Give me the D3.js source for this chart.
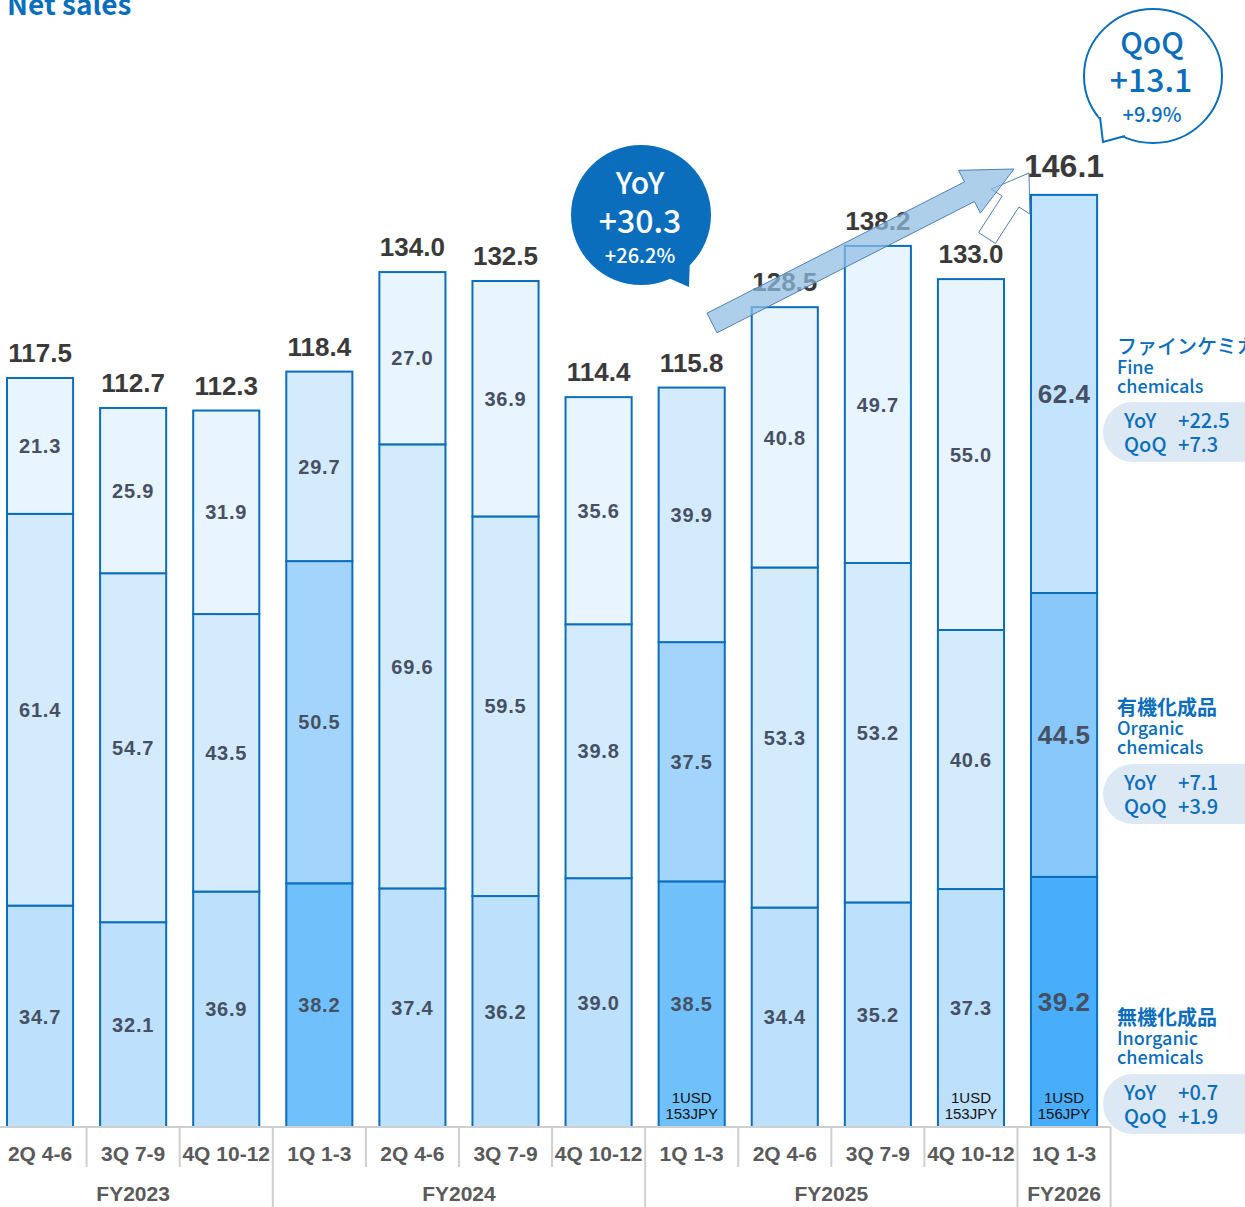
<!DOCTYPE html>
<head>
<meta charset="utf-8">
<style>
body { margin: 0; background: #fff; }
svg { display: block; }
.num { font-family: "Liberation Sans", Arial, sans-serif; font-weight: bold; }
.jp { font-family: "Noto Sans CJK JP", "Noto Sans", sans-serif; }
</style>
<title>Net sales</title>
</head>
<body>
<script src="https://cdn.jsdelivr.net/npm/d3@7"></script>
<script>

var width = 1245, height = 1207;

// quarters and fiscal years
var quarters = ["2Q 4-6","3Q 7-9","4Q 10-12","1Q 1-3","2Q 4-6","3Q 7-9","4Q 10-12","1Q 1-3","2Q 4-6","3Q 7-9","4Q 10-12","1Q 1-3"];
var years = ["FY2023","FY2023","FY2023","FY2024","FY2024","FY2024","FY2024","FY2025","FY2025","FY2025","FY2025","FY2026"];

// segment values (billion JPY)
var inorganic = [34.7,32.1,36.9,38.2,37.4,36.2,39.0,38.5,34.4,35.2,37.3,39.2];
var organic   = [61.4,54.7,43.5,50.5,69.6,59.5,39.8,37.5,53.3,53.2,40.6,44.5];
var fine      = [21.3,25.9,31.9,29.7,27.0,36.9,35.6,39.9,40.8,49.7,55.0,62.4];
var totals    = [117.5,112.7,112.3,118.4,134.0,132.5,114.4,115.8,128.5,138.2,133.0,146.1];
var fxNotes   = ["","","","","","","",["1USD","153JPY"],"","",["1USD","153JPY"],["1USD","156JPY"]];

var segNames = ["inorganic","organic","fine"];
var legend = [
  {jp: "無機化成品", en: ["Inorganic","chemicals"], yoy: "+0.7", qoq: "+1.9", bold: true},
  {jp: "有機化成品", en: ["Organic","chemicals"], yoy: "+7.1", qoq: "+3.9", bold: true},
  {jp: "ファインケミカル", en: ["Fine","chemicals"], yoy: "+22.5", qoq: "+7.3", bold: false}
];

var palette = {
  normal: ["#bde0fc","#d4ebfd","#e8f4fe"],
  q1:     ["#70c1fb","#a3d5fc","#d4ebfd"],
  latest: ["#48adfa","#88c8fb","#c4e3fc"]
};
var blue = "#0a6ebd";

var rows = quarters.map(function(q, i) {
  return {i: i, q: q, fy: years[i], inorganic: inorganic[i], organic: organic[i], fine: fine[i], total: totals[i]};
});

var svg = d3.select("body").append("svg")
    .attr("width", width)
    .attr("height", height);

var x = d3.scaleBand()
    .domain(d3.range(quarters.length))
    .range([-6.5, 1110.6])
    .paddingInner(0.29)
    .paddingOuter(0.145);

var y = d3.scaleLinear()
    .domain([0, 150])
    .range([1127, 1127 - 150 * 6.38]);

var stack = d3.stack().keys(segNames)(rows);

function colorOf(si, i) {
  var p = i == 11 ? palette.latest : (quarters[i].indexOf("1Q") == 0 ? palette.q1 : palette.normal);
  return p[si];
}

// title
svg.append("text")
    .attr("class", "jp")
    .attr("x", 7).attr("y", 15)
    .style("font-size", "28px").style("font-weight", "bold")
    .style("fill", blue)
    .text("Net sales");

// legend pills (behind axis)
var legendY = [
  {name: 1017, pill: 1074},
  {name: 707, pill: 764},
  {name: 346, pill: 402}
];
legend.forEach(function(d, k) {
  var ly = legendY[k];
  var g = svg.append("g").attr("class", "jp").style("fill", blue);
  g.append("text").attr("x", 1117).attr("y", ly.name + 8)
    .style("font-size", "20px").style("font-weight", d.bold ? "bold" : "500")
    .text(d.jp);
  g.append("text").attr("x", 1117).attr("y", ly.name + 28)
    .style("font-size", "18px").style("font-weight", "500").text(d.en[0]);
  g.append("text").attr("x", 1117).attr("y", ly.name + 47)
    .style("font-size", "18px").style("font-weight", "500").text(d.en[1]);
  g.append("rect").attr("x", 1103).attr("y", ly.pill)
    .attr("width", 170).attr("height", 60).attr("rx", 30)
    .style("fill", "#dce9f5");
  g.append("text").attr("x", 1124).attr("y", ly.pill + 26)
    .style("font-size", "20px").style("font-weight", "500").text("YoY");
  g.append("text").attr("x", 1178).attr("y", ly.pill + 26)
    .style("font-size", "20px").style("font-weight", "500").text(d.yoy);
  g.append("text").attr("x", 1124).attr("y", ly.pill + 50)
    .style("font-size", "20px").style("font-weight", "500").text("QoQ");
  g.append("text").attr("x", 1178).attr("y", ly.pill + 50)
    .style("font-size", "20px").style("font-weight", "500").text(d.qoq);
});

// bars
var layer = svg.selectAll("g.layer")
    .data(stack)
  .enter().append("g").attr("class", "layer");

layer.selectAll("rect")
    .data(function(d, si) { return d.map(function(p, i) { return {si: si, i: i, y0: p[0], y1: p[1]}; }); })
  .enter().append("rect")
    .attr("x", function(d) { return x(d.i); })
    .attr("y", function(d) { return y(d.y1); })
    .attr("width", x.bandwidth())
    .attr("height", function(d) { return y(d.y0) - y(d.y1); })
    .style("fill", function(d) { return colorOf(d.si, d.i); })
    .style("stroke", blue)
    .style("stroke-width", 2);

layer.selectAll("text")
    .data(function(d, si) { return d.map(function(p, i) { return {si: si, i: i, y0: p[0], y1: p[1], v: rows[i][segNames[si]]}; }); })
  .enter().append("text")
    .attr("class", "num")
    .attr("x", function(d) { return x(d.i) + x.bandwidth() / 2; })
    .attr("y", function(d) { return (y(d.y0) + y(d.y1)) / 2; })
    .attr("dy", "0.36em")
    .attr("text-anchor", "middle")
    .style("font-size", function(d) { return d.i == 11 ? "26px" : "20px"; })
    .style("letter-spacing", function(d) { return d.i == 11 ? "0.5px" : "0.8px"; })
    .style("fill", "#465064")
    .text(function(d) { return d.v.toFixed(1); });

// totals
svg.selectAll("text.total")
    .data(rows)
  .enter().append("text")
    .attr("class", "num total")
    .attr("x", function(d) { return x(d.i) + x.bandwidth() / 2; })
    .attr("y", function(d) { return y(stack[2][d.i][1]) - (d.i == 11 ? 18 : 16); })
    .attr("text-anchor", "middle")
    .style("font-size", function(d) { return d.i == 11 ? "32px" : "26px"; })
    .style("fill", "#3a3a3a")
    .text(function(d) { return d.total.toFixed(1); });

// fx notes
rows.forEach(function(d) {
  var n = fxNotes[d.i];
  if (!n) return;
  var t = svg.append("text")
    .attr("x", x(d.i) + x.bandwidth() / 2)
    .attr("text-anchor", "middle")
    .style("font-family", "'Liberation Sans', Arial, sans-serif")
    .style("font-size", "15px")
    .style("fill", "#111");
  t.append("tspan").attr("x", x(d.i) + x.bandwidth() / 2).attr("y", 1103).text(n[0]);
  t.append("tspan").attr("x", x(d.i) + x.bandwidth() / 2).attr("y", 1119).text(n[1]);
});

// category axis
var axis = svg.append("g").style("stroke", "#cfcfcf").style("stroke-width", 2);
var step = x.step();
axis.append("line").attr("x1", 0).attr("x2", x(11) + x.bandwidth() / 2 + step / 2)
  .attr("y1", y(0)).attr("y2", y(0));
rows.forEach(function(d) {
  var bx = x(d.i) + x.bandwidth() / 2 + step / 2;
  var yearEnd = d.i == rows.length - 1 || years[d.i + 1] != d.fy;
  axis.append("line").attr("x1", bx).attr("x2", bx)
    .attr("y1", y(0)).attr("y2", yearEnd ? height : 1167);
});

svg.selectAll("text.quarter")
    .data(rows)
  .enter().append("text")
    .attr("class", "num quarter")
    .attr("x", function(d) { return x(d.i) + x.bandwidth() / 2; })
    .attr("y", 1161)
    .attr("text-anchor", "middle")
    .style("font-size", "21px")
    .style("fill", "#5a5a5a")
    .text(function(d) { return d.q; });

var fyGroups = d3.groups(rows, function(d) { return d.fy; });
svg.selectAll("text.fy")
    .data(fyGroups)
  .enter().append("text")
    .attr("class", "num fy")
    .attr("x", function(g) {
      var a = g[1][0].i, b = g[1][g[1].length - 1].i;
      return (x(a) + x(b) + x.bandwidth()) / 2;
    })
    .attr("y", 1201)
    .attr("text-anchor", "middle")
    .style("font-size", "21px")
    .style("fill", "#5a5a5a")
    .text(function(g) { return g[0]; });

// arrows
function arrowPoints(x0, y0, x1, y1, shaftW, headW, headLen) {
  var dx = x1 - x0, dy = y1 - y0, len = Math.sqrt(dx * dx + dy * dy);
  var ux = dx / len, uy = dy / len, nx = -uy, ny = ux;
  var bx = x1 - ux * headLen, by = y1 - uy * headLen;
  return [
    [x0 + nx * shaftW / 2, y0 + ny * shaftW / 2],
    [bx + nx * shaftW / 2, by + ny * shaftW / 2],
    [bx + nx * headW / 2, by + ny * headW / 2],
    [x1, y1],
    [bx - nx * headW / 2, by - ny * headW / 2],
    [bx - nx * shaftW / 2, by - ny * shaftW / 2],
    [x0 - nx * shaftW / 2, y0 - ny * shaftW / 2]
  ];
}

svg.append("polygon")
    .attr("points", arrowPoints(987, 238, 1029, 173, 20, 46, 34).join(" "))
    .style("fill", "#fff").style("stroke", "#4f7fb8").style("stroke-width", 1);

svg.append("polygon")
    .attr("points", arrowPoints(712, 323, 1014, 169, 22, 48, 50).join(" "))
    .style("fill", "#8fbde2").style("fill-opacity", 0.72)
    .style("stroke", "#4f7fb8").style("stroke-width", 1);

// YoY bubble
var yoy = svg.append("g");
yoy.append("circle").attr("cx", 641).attr("cy", 215).attr("r", 70).style("fill", blue);
yoy.append("polygon").attr("points", "664,276 689,287 690,255").style("fill", blue);
var yt = yoy.append("g").attr("class", "jp").attr("text-anchor", "middle").style("fill", "#fff");
yt.append("text").attr("x", 640).attr("y", 194).style("font-size", "30px").style("font-weight", "500").text("YoY");
yt.append("text").attr("x", 640).attr("y", 233).style("font-size", "32px").style("font-weight", "500").text("+30.3");
yt.append("text").attr("x", 640).attr("y", 263).style("font-size", "20px").style("font-weight", "500").text("+26.2%");

// QoQ bubble
var qoq = svg.append("g");
qoq.append("ellipse").attr("cx", 1153).attr("cy", 76).attr("rx", 69).attr("ry", 67)
  .style("fill", "#fff").style("stroke", blue).style("stroke-width", 2);
qoq.append("polygon").attr("points", "1098,112 1103,142 1128,135 1122,126 1106,116").style("fill", "#fff");
qoq.append("path").attr("d", "M1100,117L1103,142L1125,136")
  .style("fill", "none").style("stroke", blue).style("stroke-width", 2);
var qt = qoq.append("g").attr("class", "jp").attr("text-anchor", "middle").style("fill", blue);
qt.append("text").attr("x", 1152).attr("y", 54).style("font-size", "30px").style("font-weight", "500").text("QoQ");
qt.append("text").attr("x", 1151).attr("y", 92).style("font-size", "32px").style("font-weight", "500").text("+13.1");
qt.append("text").attr("x", 1152).attr("y", 122).style("font-size", "20px").style("font-weight", "500").text("+9.9%");

</script>
</body>
